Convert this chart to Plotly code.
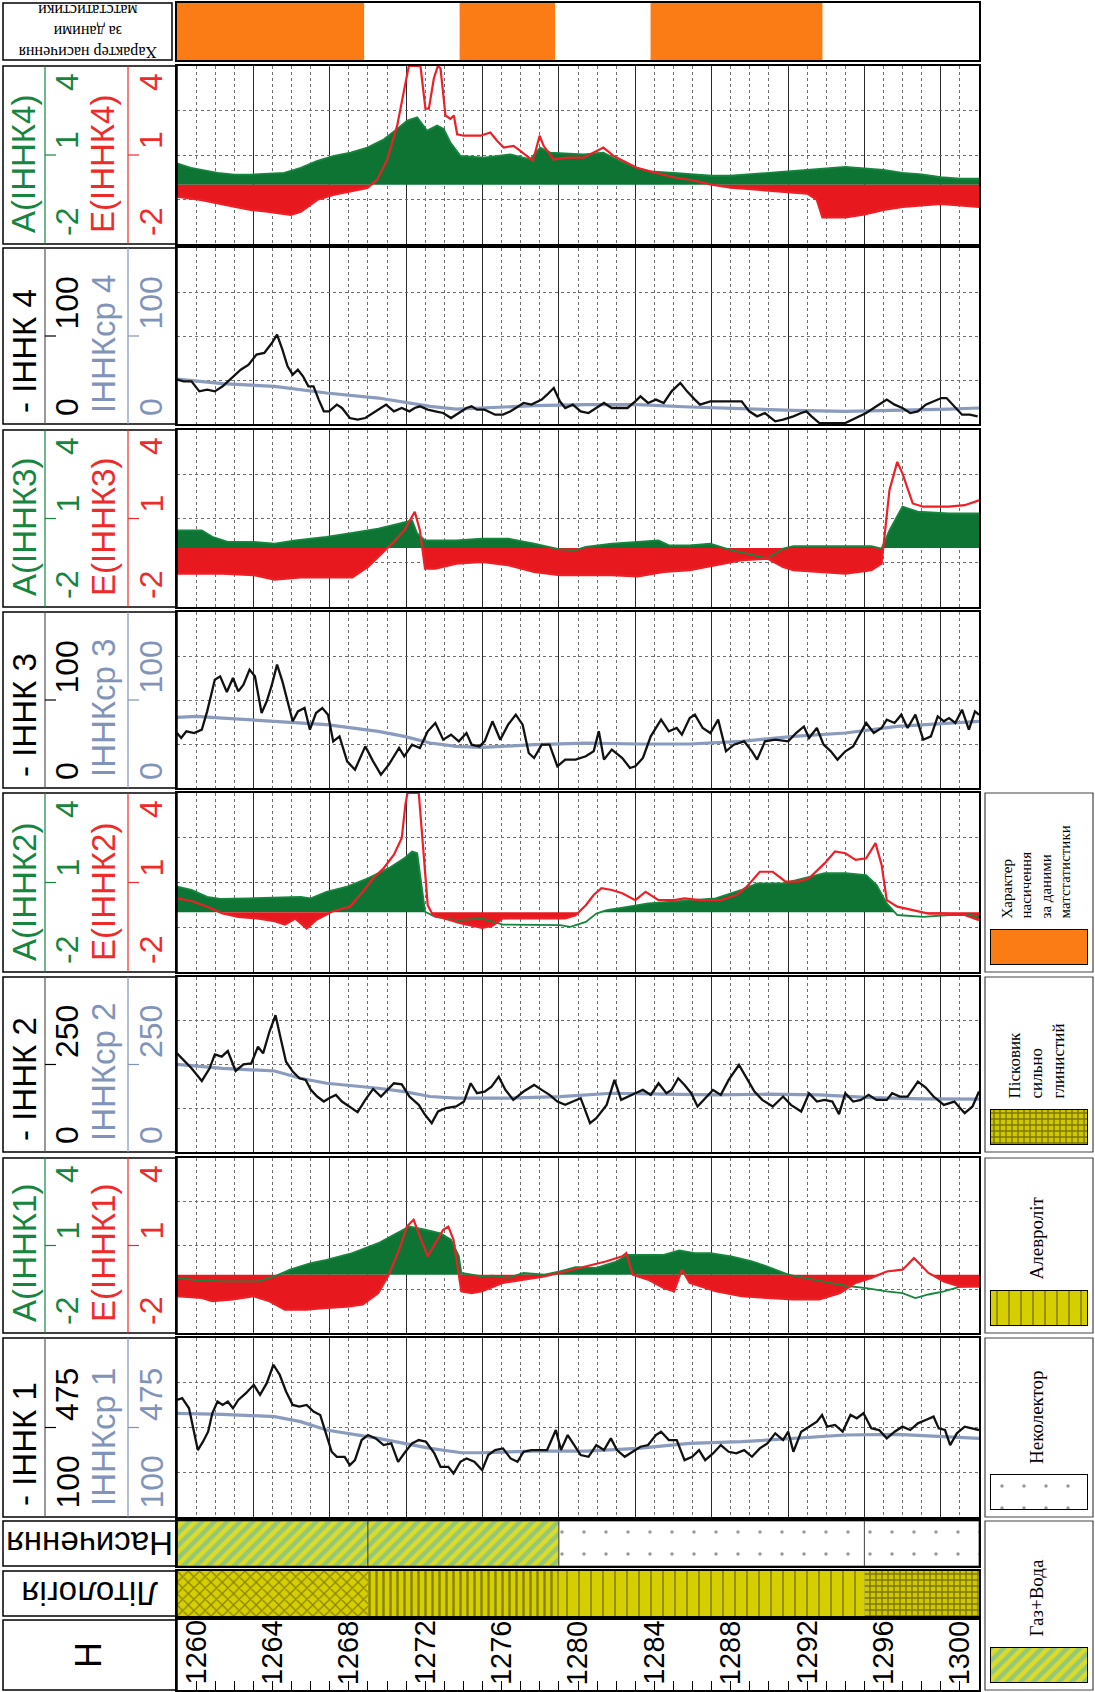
import plotly.graph_objects as go

W, H = 1095, 1692

# ---------------- data ----------------
DEPTH_MIN, DEPTH_MAX = 1260, 1302
DEPTH_TICKS = [1260, 1264, 1268, 1272, 1276, 1280, 1284, 1288, 1292, 1296, 1300]

MATSTAT_START = [1260.0, 1274.8, 1284.8]
MATSTAT_END = [1269.8, 1279.8, 1293.8]

SAT_START = [1260, 1270, 1280, 1296]
SAT_END = [1270, 1280, 1296, 1302]
SAT_KIND = ["gw", "gw", "nc", "nc"]

LITH_START = [1260, 1270, 1280, 1296]
LITH_END = [1270, 1280, 1296, 1302]
LITH_KIND = ["sandx", "sando", "silt", "sandclay"]

AE_SCALE = ["-2", "1", "4"]
INNK_SCALE = {1: ["100", "475"], 2: ["0", "250"], 3: ["0", "100"], 4: ["0", "100"]}

INNK4 = [(1260.00,50.4),(1260.35,48.5),(1260.76,48.5),(1261.17,37.1),(1261.58,39.0),(1261.98,37.1),(1262.39,42.8),(1262.93,54.2),(1263.34,61.7),(1263.75,67.4),(1264.16,78.8),(1264.57,80.7),(1264.97,92.0),(1265.24,101.5),(1265.52,84.5),(1265.79,65.5),(1266.06,56.1),(1266.33,61.7),(1266.60,54.2),(1266.88,42.8),(1267.15,42.8),(1267.42,27.7),(1267.69,14.4),(1267.96,14.4),(1268.37,22.0),(1268.64,18.2),(1269.05,6.8),(1269.46,4.9),(1269.86,6.8),(1270.41,14.4),(1270.95,22.0),(1271.36,14.4),(1271.77,18.2),(1272.17,14.4),(1272.45,18.2),(1272.72,20.1),(1273.13,16.3),(1273.53,14.4),(1273.94,12.5),(1274.35,6.8),(1274.76,12.5),(1275.16,18.2),(1275.43,20.1),(1275.71,16.3),(1276.11,16.3),(1276.66,10.6),(1277.07,10.6),(1277.47,14.4),(1277.74,18.2),(1278.15,23.9),(1278.56,22.0),(1279.10,27.7),(1279.38,33.3),(1279.73,40.9),(1280.05,25.8),(1280.33,18.2),(1280.73,22.0),(1281.14,14.4),(1281.55,12.5),(1281.96,18.2),(1282.36,23.9),(1282.77,18.2),(1283.59,18.2),(1284.00,25.8),(1284.27,31.4),(1284.67,23.9),(1285.08,27.7),(1285.49,23.9),(1285.90,37.1),(1286.36,46.6),(1286.71,37.1),(1287.12,27.7),(1287.39,22.0),(1287.93,25.8),(1289.57,25.8),(1289.97,14.4),(1290.38,8.7),(1290.79,12.5),(1291.33,3.0),(1291.74,4.9),(1292.28,8.7),(1292.69,12.5),(1292.96,14.4),(1293.23,8.7),(1293.64,1.1),(1295.00,1.1),(1295.54,6.8),(1296.09,12.5),(1296.63,20.1),(1297.17,27.7),(1297.58,22.0),(1297.99,18.2),(1298.40,12.5),(1298.80,14.4),(1299.21,22.0),(1299.62,25.8),(1300.03,29.5),(1300.30,29.5),(1300.71,20.1),(1301.11,10.6),(1301.52,10.6),(1301.93,8.7)]
INNK4_AVG = [(1260.0,51.1),(1262.39,45.8),(1265.11,42.8),(1266.47,39.0),(1267.83,35.2),(1270.54,29.5),(1273.26,20.1),(1274.62,17.0),(1275.98,18.2),(1278.70,20.8),(1281.41,22.0),(1284.13,22.0),(1286.85,19.3),(1289.57,17.0),(1292.28,15.5),(1295.0,14.4),(1297.72,15.5),(1300.43,17.0),(1302.0,18.2)]

INNK3 = [(1260.00,62.5),(1260.22,56.8),(1260.49,64.4),(1260.90,62.5),(1261.30,66.3),(1261.58,87.1),(1261.98,123.1),(1262.26,126.9),(1262.61,109.1),(1262.93,125.0),(1263.21,109.8),(1263.48,117.4),(1263.80,134.5),(1264.08,126.9),(1264.43,85.2),(1264.70,98.5),(1264.97,117.4),(1265.24,140.2),(1265.52,121.2),(1265.79,98.5),(1266.06,75.8),(1266.33,87.1),(1266.68,90.9),(1266.96,66.3),(1267.28,85.2),(1267.61,90.9),(1267.91,83.3),(1268.18,53.0),(1268.51,58.7),(1268.91,30.3),(1269.32,20.8),(1269.86,47.3),(1270.27,30.3),(1270.68,15.2),(1271.09,26.5),(1271.63,45.5),(1271.90,36.0),(1272.31,49.2),(1272.72,45.5),(1273.13,64.4),(1273.53,73.9),(1273.94,54.9),(1274.35,60.6),(1274.76,53.0),(1275.16,62.5),(1275.43,49.2),(1275.84,47.3),(1276.11,53.0),(1276.52,75.8),(1276.93,54.9),(1277.34,72.0),(1277.74,83.3),(1278.10,72.0),(1278.42,39.8),(1278.70,34.1),(1279.10,49.2),(1279.51,49.2),(1279.92,24.6),(1280.33,32.2),(1280.87,32.2),(1281.41,36.0),(1281.82,41.7),(1282.09,64.4),(1282.36,32.2),(1282.77,43.6),(1283.32,34.1),(1283.72,22.7),(1284.00,24.6),(1284.40,34.1),(1284.81,58.7),(1285.35,77.7),(1285.76,64.4),(1286.17,68.2),(1286.44,60.6),(1286.85,79.5),(1287.12,83.3),(1287.53,68.2),(1287.93,62.5),(1288.34,77.7),(1288.75,41.7),(1289.16,49.2),(1289.70,53.0),(1290.11,41.7),(1290.38,32.2),(1290.79,53.0),(1291.33,54.9),(1292.01,53.0),(1292.42,62.5),(1292.83,69.9),(1293.10,56.8),(1293.51,68.2),(1293.86,49.2),(1294.24,41.7),(1294.59,32.2),(1295.00,41.7),(1295.41,47.3),(1295.82,64.4),(1296.09,73.9),(1296.49,62.5),(1296.90,68.2),(1297.17,77.7),(1297.58,73.9),(1297.93,83.3),(1298.26,68.2),(1298.67,83.3),(1299.08,54.9),(1299.48,58.7),(1299.84,81.4),(1300.16,75.8),(1300.43,79.5),(1300.76,73.9),(1301.11,89.0),(1301.47,66.3),(1301.79,87.1),(1302.0,83.3)]
INNK3_AVG = [(1260.00,80.3),(1261.03,81.4),(1262.39,79.5),(1265.11,75.8),(1267.83,72.0),(1270.54,64.4),(1271.90,58.7),(1273.26,51.1),(1274.62,47.3),(1275.98,46.2),(1278.70,49.2),(1281.41,51.1),(1284.13,50.0),(1286.85,50.0),(1289.57,53.0),(1292.28,58.7),(1295.00,62.5),(1297.72,70.1),(1300.43,73.9),(1302.00,75.8)]

INNK2 = [(1260.00,281.8),(1260.35,262.8),(1260.76,239.1),(1261.30,203.0),(1261.71,239.1),(1261.98,279.0),(1262.34,272.3),(1262.66,288.4),(1263.07,231.5),(1263.48,250.5),(1263.89,253.3),(1264.24,300.8),(1264.51,281.8),(1264.84,343.5),(1265.16,390.9),(1265.43,324.5),(1265.71,258.1),(1266.06,229.6),(1266.41,210.6),(1266.74,205.9),(1267.01,177.4),(1267.34,158.5),(1267.69,144.2),(1267.96,153.7),(1268.32,163.2),(1268.64,144.2),(1269.05,130.0),(1269.46,113.9),(1269.86,149.0),(1270.27,180.3),(1270.68,158.5),(1271.03,177.4),(1271.36,196.4),(1271.77,193.5),(1272.17,158.5),(1272.66,134.7),(1272.99,106.3),(1273.34,82.5),(1273.67,115.8),(1274.08,125.2),(1274.62,130.0),(1275.03,144.2),(1275.38,196.4),(1275.71,167.9),(1276.11,172.7),(1276.47,186.9),(1276.85,215.4),(1277.20,177.4),(1277.61,149.0),(1278.15,172.7),(1278.70,191.7),(1279.10,177.4),(1279.51,163.2),(1279.92,144.2),(1280.33,134.7),(1280.73,144.2),(1281.14,153.7),(1281.63,82.5),(1281.96,96.8),(1282.50,134.7),(1282.91,205.9),(1283.26,149.0),(1283.59,158.5),(1284.00,167.9),(1284.40,177.4),(1284.81,163.2),(1285.22,196.4),(1285.63,167.9),(1285.90,177.4),(1286.25,210.6),(1286.58,191.7),(1286.93,167.9),(1287.26,130.0),(1287.66,153.7),(1288.07,177.4),(1288.48,163.2),(1288.89,205.9),(1289.43,248.6),(1289.84,210.6),(1290.24,172.7),(1290.65,149.0),(1291.20,130.0),(1291.74,158.5),(1292.15,134.7),(1292.69,115.8),(1293.10,167.9),(1293.51,144.2),(1293.91,149.0),(1294.32,144.2),(1294.67,108.2),(1295.00,167.9),(1295.41,144.2),(1295.82,149.0),(1296.22,163.2),(1296.63,149.0),(1297.17,149.0),(1297.45,167.9),(1297.85,158.5),(1298.26,158.5),(1298.80,201.1),(1299.21,184.1),(1299.62,158.5),(1300.16,134.7),(1300.71,144.2),(1301.25,111.0),(1301.66,130.0),(1302.0,172.7)]
INNK2_AVG = [(1260.00,250.5),(1262.39,239.1),(1265.11,231.5),(1266.47,210.6),(1267.83,196.4),(1270.54,182.2),(1271.90,172.7),(1273.26,158.5),(1274.62,153.7),(1277.34,153.7),(1280.05,158.5),(1282.77,167.9),(1285.49,165.1),(1288.21,163.2),(1290.92,165.1),(1293.64,163.2),(1296.36,155.6),(1299.08,151.8),(1302.00,150.9)]

INNK1 = [(1260.00,590.7),(1260.27,597.7),(1260.63,555.6),(1260.90,457.5),(1261.09,380.4),(1261.36,415.4),(1261.63,457.5),(1261.85,534.6),(1262.12,583.7),(1262.39,569.6),(1262.66,583.7),(1262.93,555.6),(1263.21,590.7),(1263.61,618.7),(1264.02,653.8),(1264.35,611.7),(1264.70,660.8),(1265.05,737.9),(1265.38,695.8),(1265.71,625.7),(1266.06,569.6),(1266.41,562.6),(1266.79,569.6),(1267.15,541.6),(1267.50,527.6),(1267.77,457.5),(1268.10,373.4),(1268.37,352.3),(1268.78,352.3),(1269.05,317.3),(1269.32,338.3),(1269.67,422.4),(1270.00,443.5),(1270.41,429.4),(1270.82,401.4),(1271.22,408.4),(1271.58,331.3),(1271.96,373.4),(1272.31,408.4),(1272.66,422.4),(1273.04,415.4),(1273.48,366.4),(1273.80,310.3),(1274.21,310.3),(1274.48,282.2),(1274.84,331.3),(1275.16,345.3),(1275.57,331.3),(1275.98,296.3),(1276.30,359.4),(1276.66,380.4),(1277.07,387.4),(1277.47,345.3),(1277.83,331.3),(1278.15,373.4),(1278.56,380.4),(1278.97,380.4),(1279.38,380.4),(1279.84,464.5),(1280.11,380.4),(1280.46,443.5),(1280.73,408.4),(1281.14,359.4),(1281.55,352.3),(1281.96,401.4),(1282.36,380.4),(1282.72,429.4),(1283.04,380.4),(1283.45,352.3),(1283.86,373.4),(1284.27,394.4),(1284.67,401.4),(1285.08,443.5),(1285.35,457.5),(1285.76,422.4),(1286.17,422.4),(1286.58,338.3),(1286.98,352.3),(1287.34,380.4),(1287.66,338.3),(1288.07,366.4),(1288.48,401.4),(1288.89,373.4),(1289.29,366.4),(1289.70,380.4),(1290.11,352.3),(1290.52,387.4),(1290.92,408.4),(1291.33,450.5),(1291.74,422.4),(1292.01,457.5),(1292.28,373.4),(1292.69,457.5),(1293.10,478.5),(1293.51,499.6),(1293.78,527.6),(1294.05,478.5),(1294.46,485.5),(1294.86,457.5),(1295.27,527.6),(1295.60,513.6),(1295.95,534.6),(1296.36,471.5),(1296.77,464.5),(1297.17,429.4),(1297.58,457.5),(1297.99,478.5),(1298.40,464.5),(1298.80,492.5),(1299.21,506.6),(1299.62,520.6),(1299.89,471.5),(1300.22,464.5),(1300.49,401.4),(1300.84,450.5),(1301.25,478.5),(1301.66,471.5),(1302.0,464.5)]
INNK1_AVG = [(1260.00,534.6),(1262.39,530.4),(1265.11,520.6),(1266.47,499.6),(1267.83,464.5),(1270.54,429.4),(1271.90,408.4),(1273.26,387.4),(1274.89,369.2),(1275.98,369.2),(1278.70,376.2),(1281.41,376.2),(1284.13,387.4),(1286.85,408.4),(1289.57,415.4),(1292.28,429.4),(1295.00,443.5),(1297.72,446.3),(1300.43,436.5),(1302.00,429.4)]

A4 = [(1260.00,0.72),(1260.73,0.57),(1262.13,0.40),(1263.00,0.34),(1263.87,0.34),(1265.61,0.40),(1266.48,0.57),(1267.35,0.80),(1268.22,0.97),(1269.09,1.08),(1269.97,1.25),(1270.84,1.53),(1271.53,1.88),(1272.06,2.16),(1272.58,2.27),(1273.10,1.82),(1273.62,1.99),(1273.97,1.88),(1274.32,1.42),(1274.84,0.97),(1276.06,0.91),(1277.46,1.02),(1278.50,0.85),(1279.02,1.25),(1279.55,1.08),(1281.29,1.02),(1282.33,1.08),(1283.38,0.74),(1284.08,0.57),(1284.77,0.45),(1286.0,0.40),(1287.0,0.35),(1288.0,0.30),(1289.0,0.30),(1290.0,0.35),(1291.0,0.40),(1292.0,0.45),(1293.0,0.50),(1294.0,0.55),(1295.0,0.60),(1296.0,0.55),(1297.0,0.50),(1298.0,0.40),(1299.0,0.35),(1300.0,0.25),(1301.0,0.20),(1302.0,0.20)]
E4 = [(1260.00,-0.40),(1261.25,-0.51),(1263.00,-0.74),(1263.87,-0.85),(1264.74,-0.91),(1265.96,-1.02),(1266.48,-0.91),(1267.35,-0.51),(1268.22,-0.34),(1269.09,-0.23),(1269.97,-0.11),(1270.49,0.17),(1271.01,0.85),(1271.53,1.99),(1271.88,3.13),(1272.14,4.0),(1272.75,4.0),(1273.01,2.56),(1273.19,2.56),(1273.45,3.58),(1273.66,4.0),(1273.80,3.92),(1274.06,2.33),(1274.32,2.22),(1274.50,2.33),(1274.67,1.70),(1275.02,1.65),(1275.89,1.65),(1276.41,1.76),(1276.76,1.48),(1277.11,1.25),(1277.63,1.31),(1277.98,1.14),(1278.33,0.97),(1278.64,0.80),(1278.99,1.65),(1279.20,1.31),(1279.72,0.85),(1280.42,0.91),(1281.29,0.91),(1281.81,1.08),(1282.33,1.25),(1282.86,0.97),(1283.38,0.80),(1284.08,0.57),(1284.77,0.45),(1286.0,0.25),(1287.0,0.15),(1288.0,0.0),(1289.0,-0.10),(1290.0,-0.15),(1291.0,-0.20),(1292.0,-0.25),(1293.0,-0.30),(1293.5,-0.50),(1293.8,-1.10),(1295.0,-1.10),(1296.0,-1.00),(1297.0,-0.85),(1298.0,-0.75),(1299.0,-0.70),(1300.0,-0.65),(1301.0,-0.70),(1302.0,-0.75)]

A3 = [(1260.00,0.60),(1261.30,0.60),(1261.85,0.38),(1262.66,0.21),(1264.02,0.21),(1265.11,0.15),(1266.20,0.26),(1267.83,0.38),(1269.18,0.51),(1270.54,0.66),(1271.63,0.83),(1272.31,0.94),(1272.58,0.49),(1272.99,0.26),(1274.62,0.26),(1275.98,0.32),(1277.34,0.32),(1278.70,0.15),(1280.05,-0.05),(1280.87,-0.07),(1281.41,0.04),(1282.77,0.15),(1284.13,0.21),(1285.22,0.26),(1285.76,0.09),(1286.85,0.09),(1287.93,0.15),(1289.02,-0.07),(1289.84,-0.19),(1290.92,-0.36),(1291.74,-0.02),(1292.28,0.06),(1293.64,0.06),(1295.00,0.06),(1296.36,0.06),(1296.90,-0.02),(1297.31,0.60),(1297.99,1.40),(1298.80,1.23),(1300.43,1.17),(1302.00,1.17)]
E3 = [(1260.00,-0.87),(1261.30,-0.87),(1262.39,-0.87),(1264.02,-0.92),(1265.11,-1.07),(1266.47,-1.00),(1267.83,-1.00),(1269.18,-1.00),(1270.00,-0.64),(1270.82,-0.13),(1271.36,0.21),(1271.90,0.60),(1272.45,1.23),(1272.72,0.60),(1272.99,-0.70),(1273.53,-0.70),(1274.62,-0.53),(1275.98,-0.47),(1277.34,-0.58),(1278.70,-0.81),(1280.05,-0.92),(1281.41,-0.92),(1282.77,-0.92),(1284.13,-0.96),(1285.49,-0.81),(1286.85,-0.75),(1288.21,-0.58),(1289.57,-0.41),(1290.92,-0.36),(1291.74,-0.64),(1292.28,-0.75),(1293.64,-0.81),(1295.00,-0.87),(1296.36,-0.75),(1296.90,-0.53),(1297.31,1.96),(1297.72,2.92),(1297.99,2.53),(1298.53,1.51),(1299.08,1.40),(1300.43,1.40),(1301.25,1.45),(1302.00,1.62)]

A2 = [(1260.00,0.86),(1260.76,0.75),(1261.58,0.52),(1262.26,0.45),(1263.75,0.47),(1265.11,0.49),(1266.47,0.52),(1267.01,0.47),(1267.83,0.69),(1268.91,0.86),(1270.00,1.14),(1271.09,1.48),(1271.90,1.81),(1272.31,2.04),(1272.58,1.98),(1272.99,0.02),(1273.53,-0.15),(1274.62,-0.26),(1275.98,-0.21),(1277.07,-0.41),(1278.70,-0.43),(1280.05,-0.43),(1280.60,-0.49),(1281.41,-0.32),(1281.96,-0.04),(1282.50,0.07),(1283.59,0.18),(1284.67,0.30),(1285.76,0.35),(1286.85,0.41),(1288.21,0.47),(1289.57,0.75),(1290.38,0.97),(1291.74,0.97),(1292.83,1.14),(1293.91,1.31),(1295.00,1.31),(1296.09,1.25),(1296.63,0.92),(1297.17,0.30),(1297.72,-0.09),(1299.08,-0.15),(1300.43,-0.09),(1301.52,-0.09),(1302.00,-0.15)]
E2 = [(1260.00,0.47),(1260.76,0.38),(1261.58,0.19),(1262.39,-0.04),(1263.21,-0.15),(1264.29,-0.21),(1265.11,-0.30),(1265.65,-0.41),(1266.20,-0.21),(1266.79,-0.54),(1267.28,-0.26),(1268.10,0.02),(1269.05,0.19),(1269.73,0.69),(1270.27,1.14),(1270.82,1.48),(1271.36,1.93),(1271.77,2.49),(1271.96,3.61),(1272.07,4.0),(1272.66,4.0),(1272.85,2.49),(1273.13,0.24),(1273.40,-0.09),(1274.08,-0.21),(1274.89,-0.37),(1275.98,-0.52),(1276.52,-0.45),(1277.07,-0.20),(1278.70,-0.20),(1280.33,-0.20),(1280.87,-0.10),(1281.41,0.24),(1281.82,0.58),(1282.23,0.81),(1282.77,0.75),(1283.32,0.64),(1284.00,0.41),(1284.54,0.69),(1285.22,0.41),(1286.03,0.41),(1286.58,0.47),(1287.39,0.41),(1288.48,0.41),(1289.29,0.58),(1289.84,0.86),(1290.52,1.36),(1291.20,1.36),(1291.87,1.03),(1292.55,1.03),(1293.10,1.14),(1293.91,1.64),(1294.46,2.04),(1295.00,1.98),(1295.54,1.76),(1296.09,1.81),(1296.58,2.32),(1296.90,1.59),(1297.17,0.41),(1297.72,0.19),(1298.53,0.07),(1299.35,-0.04),(1300.16,-0.04),(1301.25,-0.09),(1302.00,-0.26)]

A1 = [(1260.00,-0.11),(1261.03,-0.19),(1262.39,-0.23),(1263.75,-0.23),(1264.29,-0.23),(1265.11,-0.06),(1265.92,0.17),(1267.01,0.40),(1267.83,0.51),(1269.18,0.74),(1270.54,1.08),(1271.36,1.37),(1272.17,1.65),(1272.99,1.54),(1273.80,1.42),(1274.35,1.20),(1274.76,0.63),(1274.89,0.06),(1275.43,0.0),(1275.98,-0.06),(1276.52,-0.03),(1277.34,-0.11),(1278.15,0.06),(1279.24,0.0),(1280.05,0.11),(1280.87,0.26),(1281.96,0.23),(1283.04,0.46),(1283.59,0.68),(1284.67,0.68),(1285.49,0.68),(1286.30,0.83),(1287.12,0.74),(1287.93,0.74),(1289.02,0.63),(1290.11,0.46),(1290.92,0.28),(1292.01,0.0),(1293.10,-0.15),(1294.18,-0.28),(1295.00,-0.38),(1296.09,-0.46),(1297.17,-0.57),(1297.99,-0.63),(1298.67,-0.80),(1299.35,-0.68),(1300.16,-0.57),(1300.98,-0.42),(1302.00,-0.40)]
E1 = [(1260.00,-0.74),(1261.30,-0.80),(1261.85,-0.91),(1262.93,-0.85),(1264.02,-0.74),(1264.84,-0.91),(1265.65,-1.20),(1266.74,-1.20),(1267.83,-1.14),(1268.91,-1.10),(1269.73,-1.02),(1270.54,-0.63),(1271.09,0.0),(1271.63,0.85),(1272.04,1.65),(1272.39,1.88),(1272.72,1.31),(1273.13,0.63),(1273.53,1.08),(1273.94,1.54),(1274.21,1.65),(1274.48,1.20),(1274.89,-0.57),(1275.43,-0.63),(1275.98,-0.57),(1277.07,-0.28),(1278.15,-0.17),(1279.24,-0.06),(1280.33,0.11),(1281.41,0.28),(1282.50,0.46),(1283.32,0.63),(1283.53,0.74),(1283.86,0.0),(1284.67,-0.17),(1285.49,-0.46),(1286.03,-0.57),(1286.44,0.17),(1286.85,-0.28),(1288.21,-0.57),(1289.57,-0.74),(1290.92,-0.80),(1292.28,-0.85),(1293.64,-0.85),(1294.73,-0.63),(1295.54,-0.28),(1296.36,-0.11),(1297.17,0.11),(1297.99,0.17),(1298.26,0.34),(1298.59,0.57),(1298.94,0.34),(1299.35,0.06),(1300.16,-0.23),(1300.98,-0.40),(1302.00,-0.40)]

# ---------------- style ----------------
SANS = "Liberation Sans, Arial, sans-serif"
SERIF = "Liberation Serif, Times New Roman, serif"
GREEN_T = "#17853f"
RED_T = "#ee2b2b"
BLUE_T = "#8293b9"
GREEN_FILL = "#0e7434"
RED_FILL = "#e8181f"
GREEN_LINE = "#16863f"
RED_LINE = "#ee1f27"
BLACK_LINE = "#111111"
AVG_LINE = "#8a9bbd"
ORANGE = "#fb7b14"

PX0, PX1 = 177, 979  # plot area in pixels

fig = go.Figure()
layout = dict(width=W, height=H, margin=dict(l=0, r=0, t=0, b=0), autosize=False,
              paper_bgcolor="white", plot_bgcolor="white", showlegend=False,
              barmode="overlay", hovermode=False)
annotations = []
shapes = []


def names(n):
    s = "" if n == 1 else str(n)
    return "xaxis" + s, "yaxis" + s, "x" + s, "y" + s


def make_axes(n, x0, x1, top, bot, xr, yr, grid=False, ydtick=None, ticks=False, lw=1.5):
    xa, ya, xn, yn = names(n)
    xd = dict(domain=[x0 / W, x1 / W], range=xr, anchor=yn, showticklabels=False,
              zeroline=False, showline=True, mirror=True, linecolor="black",
              linewidth=lw, fixedrange=True, ticks="")
    if grid:
        xd.update(showgrid=True, tick0=DEPTH_MIN, dtick=4, gridcolor="#2a2a2a", gridwidth=1.3,
                  minor=dict(dtick=1, tick0=DEPTH_MIN, showgrid=True, gridcolor="#6e6e6e",
                             griddash="dot", gridwidth=1))
    else:
        xd["showgrid"] = False
    if ticks:
        xd.update(ticks="inside", tick0=DEPTH_MIN, dtick=1, ticklen=9, tickwidth=1.2,
                  tickcolor="black")
    yd = dict(domain=[1 - bot / H, 1 - top / H], range=yr, anchor=xn, showticklabels=False,
              zeroline=False, showline=True, mirror=True, linecolor="black", linewidth=lw,
              fixedrange=True, ticks="")
    if ydtick:
        yd.update(showgrid=True, tick0=yr[0], dtick=ydtick, gridcolor="#6e6e6e",
                  griddash="dot", gridwidth=1)
    else:
        yd["showgrid"] = False
    layout[xa] = xd
    layout[ya] = yd
    return xn, yn


def txt(text, x, y, size, color, angle=-90, xanchor="center", yanchor="middle",
        family=SANS, align="center", xref="paper"):
    annotations.append(dict(text=text, x=(x / W if xref == "paper" else x), y=1 - y / H,
                            xref=xref, yref="paper", showarrow=False, textangle=angle,
                            xanchor=xanchor, yanchor=yanchor, align=align,
                            font=dict(family=family, size=size, color=color)))


def rect(x0, y0, x1, y1, color="black", width=1.5):
    shapes.append(dict(type="rect", xref="paper", yref="paper", x0=x0 / W, x1=x1 / W,
                       y0=1 - y1 / H, y1=1 - y0 / H, line=dict(color=color, width=width)))


def seg(x0, y0, x1, y1, color, width=1.2):
    shapes.append(dict(type="line", xref="paper", yref="paper", x0=x0 / W, x1=x1 / W,
                       y0=1 - y0 / H, y1=1 - y1 / H, line=dict(color=color, width=width)))


def unzip(pairs):
    return [p[0] for p in pairs], [p[1] for p in pairs]


def clipped(pairs, positive):
    # split at zero crossings so that the fills start exactly at the baseline
    out_x, out_y = [], []
    for i, (d, v) in enumerate(pairs):
        if i > 0:
            d0, v0 = pairs[i - 1]
            if (v0 > 0) != (v > 0) and v0 != v:
                dz = d0 + (d - d0) * (0 - v0) / (v - v0)
                out_x.append(dz)
                out_y.append(0.0)
        out_x.append(d)
        out_y.append(max(v, 0.0) if positive else min(v, 0.0))
    return out_x, out_y


def line_trace(pairs, color, width, xn, yn):
    xs, ys = unzip(pairs)
    fig.add_trace(go.Scatter(x=xs, y=ys, mode="lines", line=dict(color=color, width=width),
                             xaxis=xn, yaxis=yn, hoverinfo="skip"))


def fill_trace(pairs, positive, color, xn, yn):
    xs, ys = clipped(pairs, positive)
    fig.add_trace(go.Scatter(x=xs, y=ys, mode="lines", fill="tozeroy", fillcolor=color,
                             line=dict(width=0, color=color), xaxis=xn, yaxis=yn,
                             hoverinfo="skip"))


PATTERNS = {
    "gw": dict(color="#dcdc28", pattern=dict(shape="/", fgcolor="#4cb2c7", bgcolor="#dcdc28",
                                             size=9, solidity=0.5)),
    "nc": dict(color="white", pattern=dict(shape=".", fgcolor="#333333", bgcolor="white",
                                           size=22, solidity=0.02)),
    "sandx": dict(color="#d6cf00", pattern=dict(shape="x", fgcolor="#3a3600", bgcolor="#d6cf00",
                                                size=8, solidity=0.3)),
    "sando": dict(color="#d6cf00", pattern=dict(shape="|", fgcolor="#3a3600", bgcolor="#d6cf00",
                                                size=7, solidity=0.35)),
    "silt": dict(color="#d6cf00", pattern=dict(shape="|", fgcolor="#4a4500", bgcolor="#d6cf00",
                                               size=12, solidity=0.15)),
    "sandclay": dict(color="#cfc700", pattern=dict(shape="+", fgcolor="#2a2700", bgcolor="#cfc700",
                                                   size=6, solidity=0.42)),
    "matstat": dict(color=ORANGE),
}


def block_trace(start, end, kind, xn, yn, outline=0):
    m = dict(PATTERNS[kind])
    m["line"] = dict(color="#333333", width=outline)
    fig.add_trace(go.Bar(orientation="h", y=[0.5], x=[end - start], base=[start], width=[1.0],
                         marker=m, xaxis=xn, yaxis=yn, hoverinfo="skip"))


# ---------------- rows ----------------
ROWS = {
    "band": (3, 60), "ae4": (66, 244), "i4": (248, 424), "ae3": (430, 607), "i3": (612, 788),
    "ae2": (793, 972), "i2": (977, 1152), "ae1": (1158, 1333), "i1": (1338, 1517),
    "sat": (1521, 1566), "lith": (1571, 1616), "h": (1620, 1690),
}
XR = [DEPTH_MIN, DEPTH_MAX]

# top band: saturation character by mathematical statistics
xn, yn = make_axes(1, PX0, PX1, *ROWS["band"], XR, [0, 1])
for s, e in zip(MATSTAT_START, MATSTAT_END):
    block_trace(s, e, "matstat", xn, yn)
rect(3, 3, 172, 60)
txt("Характер насичення<br>за даними<br>матстатистики", 88, 31.5, 16, "black", angle=180,
    family=SERIF)

TRACKS = [
    (2, "ae4", "ae", 4, A4, E4),
    (3, "i4", "i", 4, INNK4, INNK4_AVG),
    (4, "ae3", "ae", 3, A3, E3),
    (5, "i3", "i", 3, INNK3, INNK3_AVG),
    (6, "ae2", "ae", 2, A2, E2),
    (7, "i2", "i", 2, INNK2, INNK2_AVG),
    (8, "ae1", "ae", 1, A1, E1),
    (9, "i1", "i", 1, INNK1, INNK1_AVG),
]

for n, key, kind, k, c1, c2 in TRACKS:
    top, bot = ROWS[key]
    mid = (top + bot) / 2
    if kind == "ae":
        labels = AE_SCALE
        lo, hi = float(labels[0]), float(labels[2])
        xn, yn = make_axes(n, PX0, PX1, top, bot, XR, [lo, hi], grid=True, ydtick=(hi - lo) / 4)
        fill_trace(c1, True, GREEN_FILL, xn, yn)
        fill_trace(c2, False, RED_FILL, xn, yn)
        line_trace(c1, GREEN_LINE, 1.8, xn, yn)
        line_trace(c2, RED_LINE, 2.2, xn, yn)
        t1, col1, t2, col2 = "А(ІННК%d)" % k, GREEN_T, "Е(ІННК%d)" % k, RED_T
        div1 = GREEN_T
    else:
        labels = INNK_SCALE[k]
        lo = float(labels[0])
        hi = 2 * float(labels[1]) - lo
        xn, yn = make_axes(n, PX0, PX1, top, bot, XR, [lo, hi], grid=True, ydtick=(hi - lo) / 4)
        line_trace(c2, AVG_LINE, 3.2, xn, yn)
        line_trace(c1, BLACK_LINE, 2.3, xn, yn)
        t1, col1, t2, col2 = "- ІННК %d" % k, "black", "ІННКср %d" % k, BLUE_T
        div1 = "#555555"
    # header box
    rect(3, top, PX0, bot)
    seg(45, top, 45, bot, div1, 1.2)
    seg(128, top, 128, bot, col2, 1.2)
    seg(45, mid, 56, mid, col1, 1.2)
    seg(128, mid, 139, mid, col2, 1.2)
    txt(t1, 24, bot - 9, 33, col1, yanchor="bottom")
    txt(t2, 103, bot - 9, 33, col2, yanchor="bottom")
    for cx, color in ((67, col1), (151, col2)):
        txt(labels[0], cx, bot - 6, 32, color, yanchor="bottom")
        txt(labels[1], cx, mid - 4, 32, color, yanchor="bottom")
        if len(labels) > 2:
            txt(labels[2], cx, top + 5, 32, color, yanchor="top")

# saturation row
xn, yn = make_axes(10, PX0, PX1, *ROWS["sat"], XR, [0, 1])
for s, e, kd in zip(SAT_START, SAT_END, SAT_KIND):
    block_trace(s, e, kd, xn, yn, outline=0.8)
rect(3, ROWS["sat"][0], PX0, ROWS["sat"][1])
txt("Насичення", 90, sum(ROWS["sat"]) / 2, 33, "black", angle=180)

# lithology row
xn, yn = make_axes(11, PX0, PX1, *ROWS["lith"], XR, [0, 1])
for s, e, kd in zip(LITH_START, LITH_END, LITH_KIND):
    block_trace(s, e, kd, xn, yn)
rect(3, ROWS["lith"][0], PX0, ROWS["lith"][1])
txt("Літологія", 90, sum(ROWS["lith"]) / 2, 33, "black", angle=180)

# depth row
xn, yn = make_axes(12, PX0, PX1, *ROWS["h"], XR, [0, 1], ticks=True)
rect(3, ROWS["h"][0], PX0, ROWS["h"][1])
txt("H", 88, sum(ROWS["h"]) / 2, 36, "black")
for d in DEPTH_TICKS:
    txt(str(d), d, ROWS["h"][1] - 3, 29, "black", xanchor="left", yanchor="bottom", xref=xn)

# legend column
LEGEND = [
    ("matstat", "Характер<br>насичення<br>за даними<br>матстатистики", 15, "ae2"),
    ("sandclay", "Пісковик<br>сильно<br>глинистий", 17, "i2"),
    ("silt", "Алевроліт", 19, "ae1"),
    ("nc", "Неколектор", 19, "i1"),
    ("gw", "Газ+Вода", 19, None),
]
LX0, LX1 = 985, 1093
for i, (kind, label, fs, key) in enumerate(LEGEND):
    if key is None:
        top, bot = ROWS["sat"][0], ROWS["h"][1]
    else:
        top, bot = ROWS[key]
    rect(LX0, top, LX1, bot, color="#444444", width=1.2)
    sw_bot = bot - 8
    sw_top = sw_bot - 34
    xn, yn = make_axes(13 + i, 991, 1087, sw_top, sw_bot, [0, 1], [0, 1], lw=1)
    block_trace(0, 1, kind, xn, yn)
    txt(label, 1036, sw_top - 9, fs, "black", yanchor="bottom", family=SERIF, align="left")

layout["annotations"] = annotations
layout["shapes"] = shapes
fig.update_layout(**layout)
fig.write_html("out.html")
